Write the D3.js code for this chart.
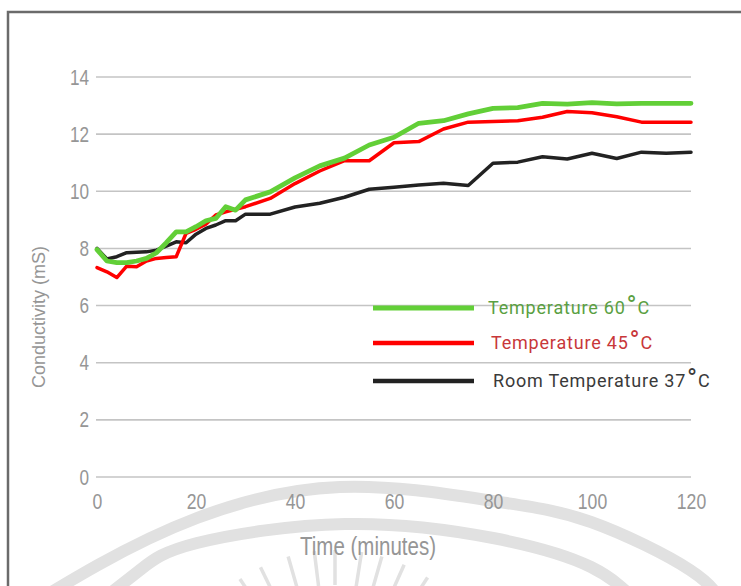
<!DOCTYPE html>
<html>
<head>
<meta charset="utf-8">
<script src="https://cdn.jsdelivr.net/npm/d3@7/dist/d3.min.js"></script>
<style>
  html, body { margin: 0; padding: 0; background: #fff; }
  svg { display: block; }
</style>
</head>
<body>
<svg id="chart" width="741" height="586"></svg>
<script>
// Sampling times (minutes): every 2 min up to 30, then every 5 min
const times = [0, 2, 4, 6, 8, 10, 12, 14, 16, 18, 20, 22, 24, 26, 28, 30,
  35, 40, 45, 50, 55, 60, 65, 70, 75, 80, 85, 90, 95, 100, 105, 110, 115, 120];

// Conductivity (mS) at 60 °C
const temp60 = [7.96, 7.56, 7.5, 7.5, 7.56, 7.65, 7.85, 8.2, 8.58, 8.58, 8.76, 8.97, 9.05, 9.46, 9.34, 9.7,
  9.98, 10.47, 10.89, 11.16, 11.62, 11.89, 12.38, 12.47, 12.71, 12.9, 12.93, 13.08, 13.05, 13.1, 13.06, 13.08, 13.08, 13.08];

// Conductivity (mS) at 45 °C
const temp45 = [7.33, 7.18, 6.98, 7.38, 7.36, 7.56, 7.65, 7.68, 7.71, 8.53, 8.67, 8.85, 9.17, 9.28, 9.37, 9.46,
  9.75, 10.27, 10.71, 11.07, 11.07, 11.7, 11.74, 12.18, 12.42, 12.44, 12.47, 12.59, 12.79, 12.75, 12.61, 12.42, 12.42, 12.42];

// Conductivity (mS) at room temperature (37 °C)
const temp37 = [8.0, 7.63, 7.71, 7.85, 7.87, 7.88, 7.94, 8.08, 8.23, 8.2, 8.5, 8.7, 8.82, 8.97, 8.97, 9.2,
  9.2, 9.45, 9.58, 9.79, 10.07, 10.14, 10.22, 10.28, 10.2, 10.98, 11.02, 11.21, 11.13, 11.33, 11.15, 11.37, 11.33, 11.37];

const xTicks = [0, 20, 40, 60, 80, 100, 120];
const yTicks = [0, 2, 4, 6, 8, 10, 12, 14];

const seriesNames = ["Temperature 60", "Temperature 45", "Room Temperature 37"];
const seriesColors = ["#62cf37", "#ff0000", "#222222"];
const textColors = ["#5a9f42", "#c8373a", "#3a3a3a"];
const seriesWidths = [4.8, 3.5, 3.5];
const seriesValues = [temp37, temp45, temp60];

const svg = d3.select("#chart");

// faint emblem behind the lower part of the chart
const wm = svg.append("g").attr("fill", "none").attr("stroke", "#e1e1e1");
const band = d3.line().curve(d3.curveNatural);
wm.append("path")
  .attr("d", band([[30, 605], [98, 565], [197, 518], [340, 487], [493, 501], [591, 522], [690, 570], [722, 605]]))
  .attr("stroke-width", 12);
wm.append("path")
  .attr("d", band([[95, 605], [140, 570], [197, 543], [345, 524], [493, 538], [591, 567], [640, 605]]))
  .attr("stroke-width", 12);
const rayCx = 335, rayCy = 720;
[-34, -26, -16, -7, 0, 9, 16, 24, 33].forEach(a => {
  const rad = (a - 90) * Math.PI / 180;
  const r1 = 135, r2 = 170;
  wm.append("line")
    .attr("x1", rayCx + r1 * Math.cos(rad)).attr("y1", rayCy + r1 * Math.sin(rad))
    .attr("x2", rayCx + r2 * Math.cos(rad)).attr("y2", rayCy + r2 * Math.sin(rad))
    .attr("stroke-width", 3.5);
});

// frame
svg.append("path")
  .attr("d", "M 8 590 L 8 12 L 745 12")
  .attr("fill", "none")
  .attr("stroke", "#6b6b6b")
  .attr("stroke-width", 2.5);

const x = d3.scaleLinear().domain([0, 120]).range([97, 691]);
const y = d3.scaleLinear().domain([0, 14]).range([477, 77]);

// horizontal gridlines
svg.append("g")
  .selectAll("line")
  .data(yTicks)
  .join("line")
  .attr("x1", x(0) - 1).attr("x2", x(120))
  .attr("y1", d => y(d)).attr("y2", d => y(d))
  .attr("stroke", "#c4c4c4")
  .attr("stroke-width", 1.6);

const tickFont = "'Liberation Sans', Arial, sans-serif";

// y axis labels (condensed horizontally)
const yAxis = svg.append("g")
  .attr("transform", `translate(${x(0) - 8},0)`)
  .call(d3.axisLeft(y).tickValues(yTicks).tickSize(0).tickPadding(0));
yAxis.select(".domain").remove();
yAxis.selectAll("text")
  .attr("fill", "#969696")
  .attr("transform", "scale(0.78,1)")
  .style("font-family", tickFont)
  .style("font-size", "22px");

// x axis labels (condensed horizontally)
const xAxis = svg.append("g")
  .attr("transform", `translate(0,${y(0) + 16})`)
  .call(d3.axisBottom(x).tickValues(xTicks).tickSize(0).tickPadding(0));
xAxis.select(".domain").remove();
xAxis.selectAll("text")
  .attr("fill", "#969696")
  .attr("transform", "scale(0.8,1)")
  .style("font-family", tickFont)
  .style("font-size", "22px");

// axis titles
svg.append("text")
  .attr("transform", "translate(45,317) rotate(-90)")
  .attr("text-anchor", "middle")
  .attr("fill", "#969696")
  .style("font-family", tickFont)
  .style("font-size", "18px")
  .text("Conductivity (mS)");

svg.append("g")
  .attr("transform", "translate(368,555) scale(0.82,1)")
  .append("text")
  .attr("text-anchor", "middle")
  .attr("fill", "#969696")
  .style("font-family", tickFont)
  .style("font-size", "25px")
  .text("Time (minutes)");

// series lines
const line = d3.line()
  .x((d, i) => x(times[i]))
  .y(d => y(d));

const drawOrder = [2, 1, 0];
seriesValues.forEach((vals, k) => {
  const idx = drawOrder[k];
  svg.append("path")
    .datum(vals)
    .attr("d", line)
    .attr("fill", "none")
    .attr("stroke", seriesColors[idx])
    .attr("stroke-width", seriesWidths[idx])
    .attr("stroke-linejoin", "round")
    .attr("stroke-linecap", "round");
});

// legend
const legendY = [308, 343, 381];
const legendTextX = [488, 491, 493];
const legend = svg.append("g");
seriesNames.forEach((name, i) => {
  legend.append("line")
    .attr("x1", 373).attr("x2", 474)
    .attr("y1", legendY[i]).attr("y2", legendY[i])
    .attr("stroke", seriesColors[i])
    .attr("stroke-width", i === 0 ? 5 : 4.5);
  const t = legend.append("text")
    .attr("x", legendTextX[i]).attr("y", legendY[i] + 6)
    .attr("fill", textColors[i])
    .style("font-family", "Roboto, 'Noto Sans', sans-serif")
    .style("font-size", "18px")
    .style("letter-spacing", "0.8px");
  t.append("tspan").text(name);
  t.append("tspan")
    .attr("dx", 1)
    .attr("dy", 1)
    .style("font-size", "27px")
    .text("°");
  t.append("tspan")
    .attr("dy", -1)
    .text("C");
});
</script>
</body>
</html>
